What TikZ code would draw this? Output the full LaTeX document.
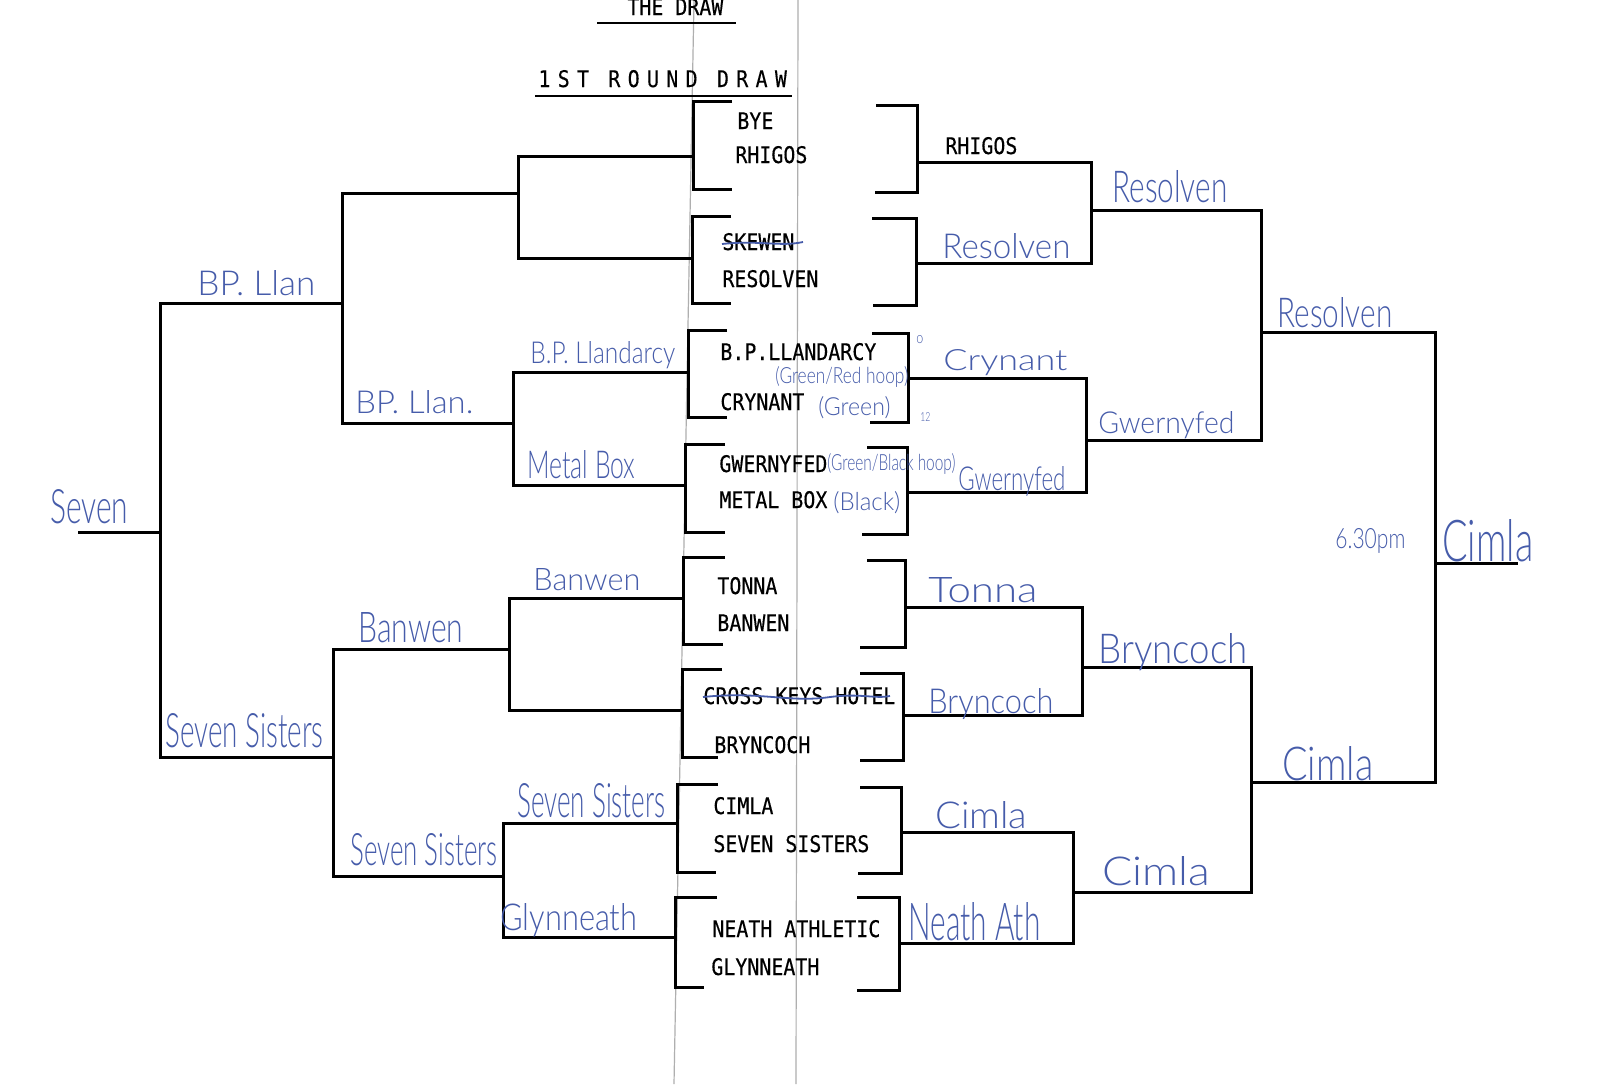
\documentclass[tikz,border=0pt]{standalone}
\usepackage{fontspec}
\usepackage{graphicx}
\newfontfamily\tw[FakeStretch=0.87,FakeBold=0.35]{DejaVu Sans Mono}
\newfontfamily\twt[FakeStretch=0.87,FakeBold=0.35,LetterSpace=32]{DejaVu Sans Mono}
\newfontfamily\hand{Lato Light}
\definecolor{ink}{RGB}{70,92,170}
\definecolor{crease}{RGB}{175,175,175}
\newlength\pxu \setlength\pxu{0.5pt}
\newcommand\handnote[6]{\node[handtxt] (#1) at (#2,#3) {\resizebox{#4\pxu}{#5\pxu}{\hand #6}};}
\begin{document}
\begin{tikzpicture}[x=0.5pt,y=-0.5pt,
  bk/.style={line width=1.5pt,line join=miter},
  typed/.style={anchor=base west,inner sep=0pt,font={\tw\fontsize{11.45pt}{13pt}\selectfont}},
  handtxt/.style={anchor=base west,inner sep=0pt,text=ink},
  strike/.style={ink,line width=0.9pt}]
\useasboundingbox (0,0) rectangle (1600,1084);
\fill[white] (0,0) rectangle (1600,1084);
% fold creases
\draw[crease,line width=0.6pt] (694,0) -- (674,1084);
\draw[crease,line width=0.6pt] (798,0) -- (796,1084);

% titles
\node[typed] (tTheDraw) at (627,15) {THE DRAW};
\draw[line width=0.9pt] (597,23) -- (736,23);
\node[anchor=base west,inner sep=0pt,font={\twt\fontsize{11.45pt}{13pt}\selectfont}] (tRound) at (538,87) {1ST ROUND DRAW};
\draw[line width=0.9pt] (535,96) -- (792,96);

% first round brackets, left side
\draw[bk] (732,101) -- (693,101) -- (693,189) -- (732,189);
\draw[bk] (731,216) -- (692,216) -- (692,303) -- (731,303);
\draw[bk] (727,330) -- (688,330) -- (688,417) -- (727,417);
\draw[bk] (725,444) -- (685,444) -- (685,532) -- (725,532);
\draw[bk] (725,557) -- (683,557) -- (683,644) -- (723,644);
\draw[bk] (722,669) -- (682,669) -- (682,757) -- (718,757);
\draw[bk] (718,784) -- (677,784) -- (677,872) -- (716,872);
\draw[bk] (717,897) -- (675,897) -- (675,987) -- (704,987);
% first round brackets, right side
\draw[bk] (876,105) -- (917,105) -- (917,192) -- (875,192);
\draw[bk] (872,218) -- (916,218) -- (916,305) -- (873,305);
\draw[bk] (872,333) -- (908,333) -- (908,422) -- (870,422);
\draw[bk] (867,447) -- (907,447) -- (907,534) -- (862,534);
\draw[bk] (867,560) -- (905,560) -- (905,647) -- (860,647);
\draw[bk] (860,673) -- (903,673) -- (903,760) -- (860,760);
\draw[bk] (860,787) -- (901,787) -- (901,873) -- (858,873);
\draw[bk] (857,897) -- (899,897) -- (899,990) -- (857,990);

% left tree
\draw[bk] (693,156) -- (518,156) -- (518,258) -- (692,258);
\draw[bk] (518,193) -- (342,193) -- (342,423) -- (513,423);
\draw[bk] (688,372) -- (513,372) -- (513,485) -- (685,485);
\draw[bk] (342,303) -- (160,303) -- (160,757) -- (333,757);
\draw[bk] (160,532) -- (78,532);
\draw[bk] (683,598) -- (509,598) -- (509,710) -- (682,710);
\draw[bk] (509,649) -- (333,649) -- (333,876) -- (503,876);
\draw[bk] (677,823) -- (503,823) -- (503,937) -- (675,937);

% right tree
\draw[bk] (917,162) -- (1091,162) -- (1091,263) -- (916,263);
\draw[bk] (1091,210) -- (1261,210) -- (1261,440) -- (1086,440);
\draw[bk] (908,378) -- (1086,378) -- (1086,492) -- (907,492);
\draw[bk] (1261,332) -- (1435,332) -- (1435,782) -- (1251,782);
\draw[bk] (1435,563) -- (1518,563);
\draw[bk] (905,607) -- (1082,607) -- (1082,715) -- (903,715);
\draw[bk] (1082,667) -- (1251,667) -- (1251,892) -- (1073,892);
\draw[bk] (901,832) -- (1073,832) -- (1073,943) -- (899,943);

% typed team names
\node[typed] (tBye) at (737,129) {BYE};
\node[typed] (tRhigos) at (735,163) {RHIGOS};
\node[typed] (tSkewen) at (722,250) {SKEWEN};
\node[typed] (tResolven) at (722,287) {RESOLVEN};
\node[typed] (tBPL) at (720,360) {B.P.LLANDARCY};
\node[typed] (tCrynant) at (720,410) {CRYNANT};
\node[typed] (tGwernyfed) at (719,472) {GWERNYFED};
\node[typed] (tMetal) at (719,508) {METAL BOX};
\node[typed] (tTonna) at (717,594) {TONNA};
\node[typed] (tBanwen) at (717,631) {BANWEN};
\node[typed] (tCross) at (703,704) {CROSS KEYS HOTEL};
\node[typed] (tBryncoch) at (714,753) {BRYNCOCH};
\node[typed] (tCimla) at (713,814) {CIMLA};
\node[typed] (tSeven) at (713,852) {SEVEN SISTERS};
\node[typed] (tNeath) at (712,937) {NEATH ATHLETIC};
\node[typed] (tGlyn) at (711,975) {GLYNNEATH};
\node[typed] (tRhigosR) at (945,154) {RHIGOS};

% strike-throughs in ink
\draw[strike] (722,244) .. controls (760,240) and (780,247) .. (803,242);
\draw[strike] (703,697) .. controls (760,691) and (790,703) .. (830,697) .. controls (860,693) and (875,699) .. (890,696);

% handwritten results, left
\handnote{hBPLlandarcy}{530}{363}{145}{22}{B.P. Llandarcy}
\handnote{hMetalBox}{527}{478}{108}{28}{Metal Box}
\handnote{hBPLlanA}{197}{295}{118}{25}{BP. Llan}
\handnote{hBPLlanB}{355}{413}{118}{23}{BP. Llan.}
\handnote{hSeven}{50}{523}{78}{34}{Seven}
\handnote{hBanwenA}{533}{590}{107}{22}{Banwen}
\handnote{hBanwenB}{358}{642}{105}{30}{Banwen}
\handnote{hSevenSistersA}{165}{747}{158}{34}{Seven Sisters}
\handnote{hSevenSistersB}{517}{817}{148}{34}{Seven Sisters}
\handnote{hSevenSistersC}{350}{865}{147}{32}{Seven Sisters}
\handnote{hGlynneath}{500}{930}{137}{27}{Glynneath}
% handwritten results, right
\handnote{hResolvenA}{1112}{202}{115}{32}{Resolven}
\handnote{hResolvenB}{942}{258}{128}{25}{Resolven}
\handnote{hCrynant}{943}{370}{124}{21}{Crynant}
\handnote{hGwernyfedA}{1098}{433}{136}{22}{Gwernyfed}
\handnote{hGwernyfedB}{958}{490}{107}{24}{Gwernyfed}
\handnote{hResolvenC}{1277}{327}{115}{30}{Resolven}
\handnote{hTonna}{928}{602}{109}{25}{Tonna}
\handnote{hBryncochA}{1098}{663}{149}{30}{Bryncoch}
\handnote{hBryncochB}{928}{713}{125}{25}{Bryncoch}
\handnote{hCimlaA}{935}{828}{92}{27}{Cimla}
\handnote{hCimlaB}{1102}{885}{108}{29}{Cimla}
\handnote{hNeathAth}{908}{940}{132}{38}{Neath Ath}
\handnote{hCimlaC}{1282}{780}{91}{34}{Cimla}
\handnote{hCimlaFinal}{1442}{561}{91}{42}{Cimla}
\handnote{hTime}{1335}{548}{70}{20}{6.30pm}
% colour notes
\handnote{aGR}{775}{383}{133}{17}{(Green/Red hoop)}
\handnote{aG}{818}{415}{72}{19}{(Green)}
\handnote{aGB}{827}{470}{128}{17}{(Green/Black hoop)}
\handnote{aB}{833}{510}{67}{19}{(Black)}
\handnote{aZero}{916}{343}{7}{8}{o}
\handnote{aTwelve}{920}{421}{10}{9}{12}
\end{tikzpicture}
\end{document}
